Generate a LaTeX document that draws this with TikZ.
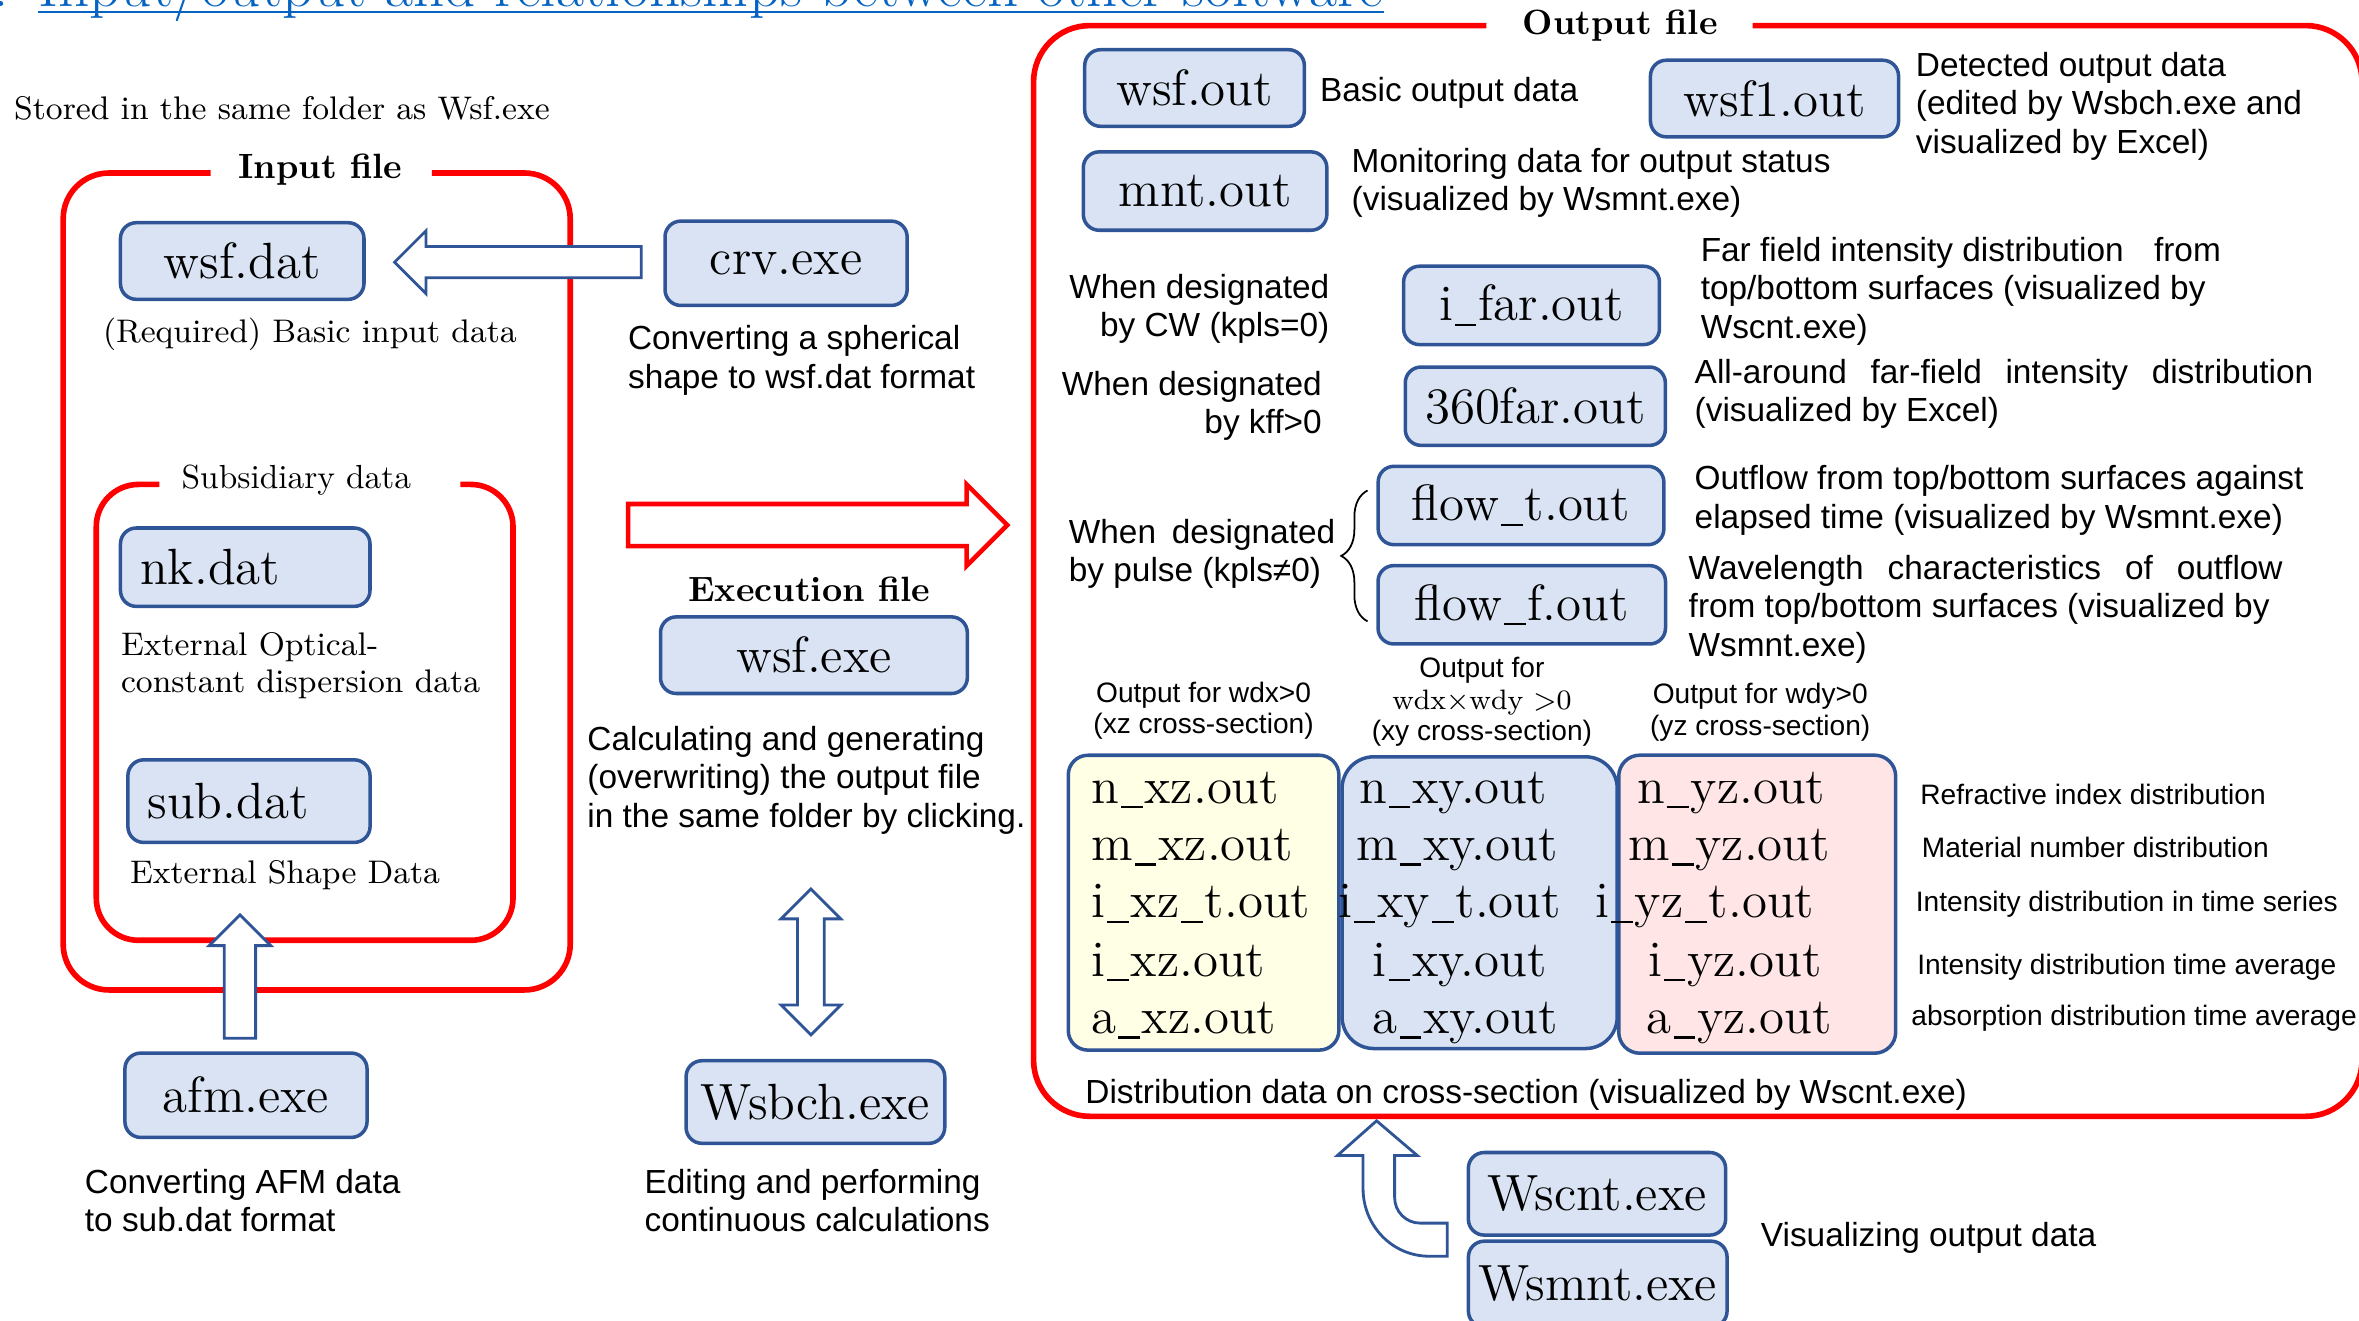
\documentclass[tikz,border=0pt]{standalone}
\usepackage{fontspec}
\setsansfont{Liberation Sans}
\usetikzlibrary{arrows.meta,calc,shapes.arrows,decorations.pathreplacing}
\definecolor{boxFill}{HTML}{DAE3F3}
\definecolor{boxLine}{HTML}{2F5597}
\definecolor{xzFill}{HTML}{FFFFE5}
\definecolor{yzFill}{HTML}{FFE5E5}
\definecolor{linkBlue}{HTML}{0563C1}
\newcommand\us{\kern0.04em\rule[-0.1em]{0.42em}{0.045em}\kern0.04em}

\begin{document}
\begin{tikzpicture}[x=0.015045cm,y=-0.015045cm,>=Stealth,
  fileBox/.style={draw=boxLine,fill=boxFill,line width=1pt,rounded corners=4.5pt,
    inner sep=0pt,font=\fontsize{14.5}{17}\selectfont},
  redFrame/.style={draw=red,line width=1.6pt,rounded corners=#1},
  hollowArrow/.style={draw=boxLine,fill=white,line width=0.8pt},
  column/.style={draw=boxLine,line width=1pt,rounded corners=#1,inner sep=0pt},
  colText/.style={font=\fontsize{14.5}{17}\selectfont,inner sep=0pt,anchor=base west},
  descText/.style={font=\sffamily\fontsize{9.5}{10.9}\selectfont,inner sep=0pt,align=left},
  noteText/.style={font=\fontsize{9.3}{10.7}\selectfont,inner sep=0pt,align=left},
  tinyText/.style={font=\sffamily\fontsize{8}{9}\selectfont,inner sep=0pt},
  frameTitle/.style={font=\bfseries\fontsize{10}{12}\selectfont,inner sep=0pt}]
  \useasboundingbox (0,0) rectangle (1568,878);

  \node[anchor=base east,inner sep=0pt,text=linkBlue,font=\fontsize{17.4}{20}\selectfont] (titleNum) at (6,4.5) {1.};
  \node[anchor=base west,inner sep=0pt,text=linkBlue,font=\fontsize{17.4}{20}\selectfont] (title) at (25,4.5)
    {Input/output and relationships between other software};
  \draw[linkBlue,line width=0.6pt] ([yshift=-1.6pt]title.base west) -- ([yshift=-1.6pt]title.base east);

  \node[noteText,anchor=west] (stored) at (9,72) {Stored in the same folder as Wsf.exe};

  \draw[redFrame=13pt] (140,115) -| (42,658) -| (379,115) -- (287,115);
  \node[frameTitle] (inputTitle) at (213,113) {Input file};
  \draw[redFrame=12pt] (106,322) -| (64,625) -| (341,322) -- (306,322);
  \node[noteText,font=\fontsize{9.5}{11}\selectfont] (subTitle) at (197,319) {Subsidiary data};

  \node[fileBox,minimum width=69.3pt,minimum height=21.8pt] (wsfDat) at (161,173.5) {wsf.dat};
  \node[noteText,anchor=west] (wsfDatNote) at (68,222) {(Required) Basic input data};
  \node[fileBox,minimum width=71pt,minimum height=22.3pt,inner xsep=5.6pt,text width=59.8pt,align=left] (nkDat) at (163,377) {nk.dat};
  \node[noteText,anchor=west] (nkNote) at (80,442.5) {External Optical-\\constant dispersion data};
  \node[fileBox,minimum width=68.9pt,minimum height=23.5pt,inner xsep=5.6pt,text width=57.7pt,align=left] (subDat) at (165.5,532.5) {sub.dat};
  \node[noteText,anchor=west] (subNote) at (86,582) {External Shape Data};
  \node[fileBox,minimum width=68.9pt,minimum height=24pt] (afm) at (163.5,728) {afm.exe};
  \node[descText,anchor=west] (afmNote) at (56,798) {Converting AFM data\\to sub.dat format};

  \node[fileBox,minimum width=68.9pt,minimum height=24pt] (crv) at (522.5,175) {crv.exe};
  \node[descText,anchor=west] (crvNote) at (417,239.5) {Converting a spherical\\shape to wsf.dat format};
  \node[frameTitle] (execTitle) at (538,392) {Execution file};
  \node[fileBox,minimum width=87.3pt,minimum height=21.8pt] (wsfExe) at (541,435.5) {wsf.exe};
  \node[descText,anchor=west] (wsfExeNote) at (390,518.5)
    {Calculating and generating\\(overwriting) the output file\\in the same folder by clicking.};
  \node[fileBox,minimum width=73.6pt,minimum height=23.5pt] (wsbch) at (542,732.5) {Wsbch.exe};
  \node[descText,anchor=west] (wsbchNote) at (428,798) {Editing and performing\\continuous calculations};

  \node[hollowArrow,single arrow,shape border rotate=180,inner sep=4.05pt,minimum height=70.2pt,minimum width=17.1pt,
    single arrow head extend=4.5pt] (crvArrow) at ($(crv.west)!0.5!(wsfDat.east)+(7.5,0)$) {};
  \node[hollowArrow,single arrow,shape border rotate=90,inner sep=4.05pt,minimum height=35.1pt,minimum width=16.7pt,
    single arrow head extend=4.3pt] (afmArrow) at ($(afm.north)+(-4,-44.5)$) {};
  \node[hollowArrow,double arrow,shape border rotate=90,inner sep=3.4pt,minimum height=41.5pt,minimum width=16.3pt,
    double arrow head extend=4.7pt] (dblArrow) at ($(wsbch.north)+(-3,-64.5)$) {};
  \node[single arrow,draw=red,fill=white,line width=1.3pt,inner sep=5.35pt,minimum height=107.9pt,
    minimum width=23.1pt,single arrow head extend=5.6pt] (runArrow) at (536.5,349) {};

  \draw[redFrame=16pt] (988,17) -| (687,742) -| (1570,17) -- (1165,17);
  \node[frameTitle] (outputTitle) at (1077,17) {Output file};

  \node[fileBox,minimum width=62.5pt,minimum height=21.8pt] (wsfOut) at (794,58.5) {wsf.out};
  \node[descText,anchor=west] (wsfOutNote) at (877,62) {Basic output data};
  \node[fileBox,minimum width=70.6pt,minimum height=21.8pt] (wsfOneOut) at (1179.5,65.5) {wsf1.out};
  \node[descText,anchor=west] (wsfOneNote) at (1273,70.5)
    {Detected output data\\(edited by Wsbch.exe and\\visualized by Excel)};
  \node[fileBox,minimum width=69.3pt,minimum height=22.3pt] (mntOut) at (801,127) {mnt.out};
  \node[descText,anchor=west] (mntNote) at (898,121.5)
    {Monitoring data for output status\\(visualized by Wsmnt.exe)};

  \node[descText,align=right,anchor=east] (cwCase) at (884,205.5) {When designated\\by CW (kpls=0)};
  \node[fileBox,minimum width=72.8pt,minimum height=22.3pt] (iFar) at (1018,203) {i\us far.out};
  \node[descText,anchor=west] (iFarNote) at (1130,193.5)
    {\makebox[148pt][l]{Far field intensity distribution\hfill from}\\top/bottom surfaces (visualized by\\Wscnt.exe)};
  \node[descText,align=right,anchor=east] (kffCase) at (879,270) {When designated\\by kff>0};
  \node[fileBox,minimum width=74pt,minimum height=22.3pt] (farAll) at (1020.5,270) {360far.out};
  \node[descText,anchor=west] (farAllNote) at (1126,262)
    {\makebox[176pt][s]{All-around far-field intensity distribution}\\(visualized by Excel)};

  \node[descText,anchor=west] (pulseCase) at (710,368) {\makebox[75.8pt][s]{When designated}\\by pulse (kpls≠0)};
  \node[fileBox,minimum width=81.3pt,minimum height=22.3pt] (flowT) at (1011,336) {flow\us t.out};
  \node[descText,anchor=west] (flowTNote) at (1126,332.5)
    {Outflow from top/bottom surfaces against\\elapsed time (visualized by Wsmnt.exe)};
  \node[fileBox,minimum width=81.8pt,minimum height=22.3pt] (flowF) at (1011.5,402) {flow\us f.out};
  \node[descText,anchor=west] (flowFNote) at (1122,405)
    {\makebox[169pt][s]{Wavelength characteristics of outflow}\\from top/bottom surfaces (visualized by\\Wsmnt.exe)};
  \draw[decorate,decoration={brace,amplitude=7.5pt},line width=0.5pt] (909,413) -- (909,326);

  \node[tinyText,align=center] (xzHead) at (800,472.5) {Output for wdx>0\\(xz cross-section)};
  \node[tinyText,align=center] (xyHead) at (985,466.5)
    {Output for\\{\rmfamily wdx×wdy >0}\\(xy cross-section)};
  \node[tinyText,align=center] (yzHead) at (1170,473.5) {Output for wdy>0\\(yz cross-section)};

  \node[column=5.6pt,fill=xzFill,minimum width=77pt,minimum height=83.9pt] (colXZ) at (800,600) {};
  \node[column=9pt,fill=boxFill,minimum width=78.3pt,minimum height=83pt] (colXY) at (983.5,600) {};
  \node[column=6pt,fill=yzFill,minimum width=78.8pt,minimum height=84.8pt] (colYZ) at (1168,601) {};

  \node[colText] (nXZ) at (725,534) {n\us xz.out};
  \node[colText] (mXZ) at (725,572) {m\us xz.out};
  \node[colText] (itXZ) at (725,610) {i\us xz\us t.out};
  \node[colText] (iXZ) at (725,649) {i\us xz.out};
  \node[colText] (aXZ) at (725,687) {a\us xz.out};
  \node[colText] (nXY) at (903,534) {n\us xy.out};
  \node[colText] (mXY) at (901,572) {m\us xy.out};
  \node[colText] (itXY) at (889,610) {i\us xy\us t.out};
  \node[colText] (iXY) at (912,649) {i\us xy.out};
  \node[colText] (aXY) at (912,687) {a\us xy.out};
  \node[colText] (nYZ) at (1088,534) {n\us yz.out};
  \node[colText] (mYZ) at (1082,572) {m\us yz.out};
  \node[colText] (itYZ) at (1060,610) {i\us yz\us t.out};
  \node[colText] (iYZ) at (1095,649) {i\us yz.out};
  \node[colText] (aYZ) at (1094,687) {a\us yz.out};

  \node[tinyText,anchor=west] (nNote) at (1276,528) {Refractive index distribution};
  \node[tinyText,anchor=west] (mNote) at (1277,563) {Material number distribution};
  \node[tinyText,anchor=west] (itNote) at (1273,601) {Intensity distribution in time series};
  \node[tinyText,anchor=west] (iNote) at (1274,643) {Intensity distribution time average};
  \node[tinyText,anchor=west] (aNote) at (1270,677) {absorption distribution time average};

  \node[descText,anchor=west] (crossNote) at (721,728)
    {Distribution data on cross-section (visualized by Wscnt.exe)};

  \node[fileBox,minimum width=73.2pt,minimum height=23.5pt] (wscnt) at (1061.5,793.5) {Wscnt.exe};
  \node[fileBox,minimum width=73.6pt,minimum height=24.4pt] (wsmnt) at (1062,853.5) {Wsmnt.exe};
  \node[descText,anchor=west] (visNote) at (1170,823) {Visualizing output data};
  \draw[hollowArrow] (962,813) -- (944,813) to[out=180,in=-90] (927,796) -- (927,768) -- (942,768)
    -- (915,745) -- (889,768) -- (906,768) -- (906,790) to[out=-90,in=180] (950,835) -- (962,835) -- cycle;
\end{tikzpicture}
\end{document}
